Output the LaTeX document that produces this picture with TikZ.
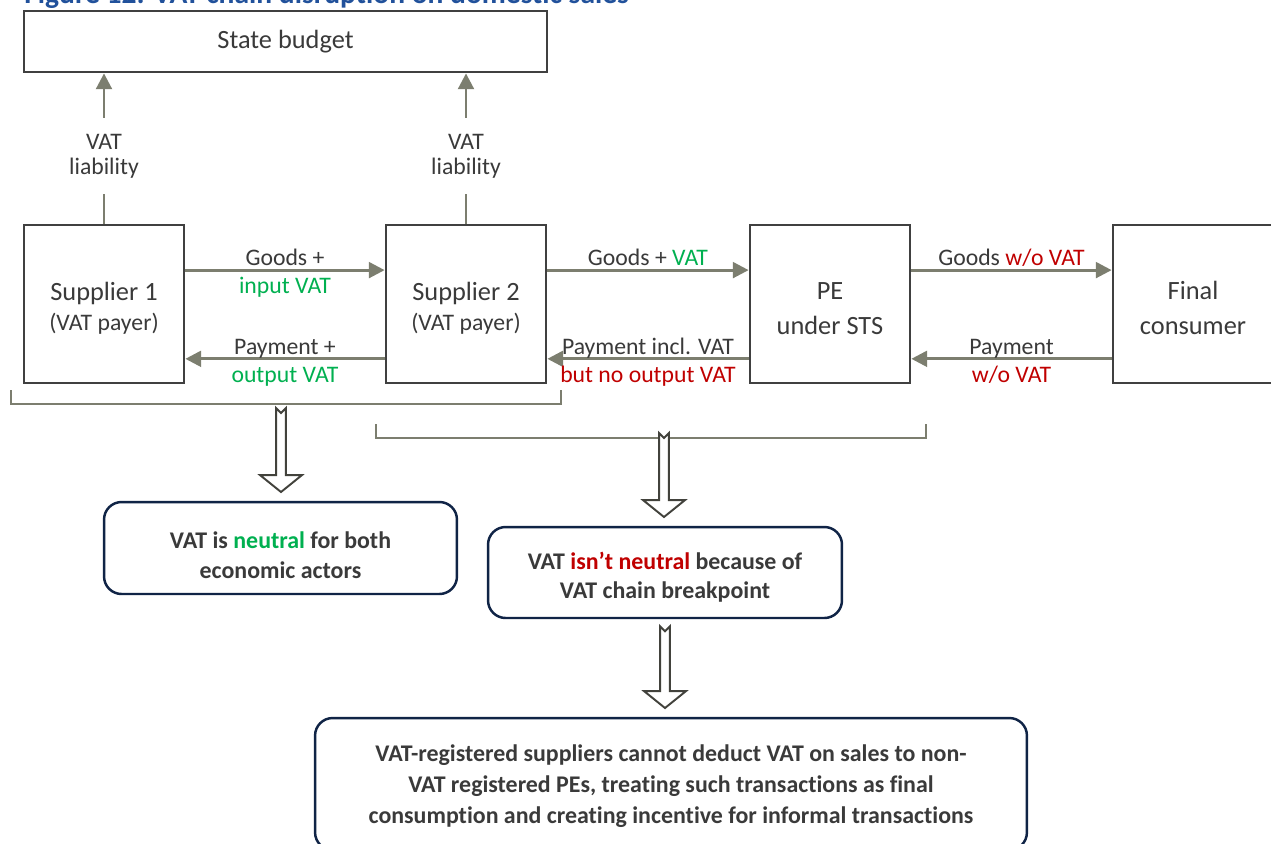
\documentclass[tikz,border=0pt]{standalone}
\usepackage{fontspec}
\setmainfont{Carlito}[Ligatures=NoCommon]
\usetikzlibrary{arrows.meta,calc}

\definecolor{flowgray}{RGB}{124,126,111}
\definecolor{boxgray}{RGB}{64,64,64}
\definecolor{hollowgray}{RGB}{66,66,60}
\definecolor{navy}{RGB}{16,36,70}
\definecolor{ink}{RGB}{58,58,58}
\definecolor{vatgreen}{RGB}{0,176,80}
\definecolor{vatred}{RGB}{192,0,0}
\definecolor{titleblue}{RGB}{33,81,155}

\begin{document}
\begin{tikzpicture}[x=0.02cm, y=-0.02cm]
      \tikzstyle{party}=[draw=boxgray, line width=1.6pt, minimum width=3.2cm,
        minimum height=3.16cm, inner sep=0pt, align=center, text=ink,
        text height=34.3pt, text depth=0pt, font=\fontsize{15}{20}\selectfont]
      \tikzstyle{outcome}=[draw=navy, line width=1.4pt, rounded corners=10pt,
        inner sep=0pt, align=center, text=ink, text depth=0pt,
        font=\bfseries\fontsize{13.6}{17}\selectfont]
      \tikzstyle{flow}=[draw=flowgray, line width=1.6pt,
        -{Triangle[length=9pt,width=9pt]}]
      \tikzstyle{lbl}=[font=\fontsize{13.5}{14}\selectfont, text=ink,
        text height=9.5pt, text depth=3pt, inner sep=1pt, yshift=-2.3pt]
      \tikzstyle{liab}=[font=\fontsize{13.5}{14}\selectfont, text=ink,
        fill=white, align=center, inner xsep=2pt, inner ysep=9pt]
      \tikzstyle{brace}=[draw=flowgray, line width=1.2pt]
      \tikzstyle{hollow}=[draw=hollowgray, line width=1.1pt, fill=white,
        to path={let \p1=(\tikztostart), \p2=(\tikztotarget) in
          (\x1-2.8pt,\y1) -- (\x1,\y1-2.8pt) -- (\x1+2.8pt,\y1)
          -- (\x1+2.8pt,\y2+14.6pt) -- (\x1+11.9pt,\y2+14.6pt)
          -- (\x1,\y2+5pt) -- (\x1-11.9pt,\y2+14.6pt)
          -- (\x1-2.8pt,\y2+14.6pt) -- cycle}]
      \def \up {19.3pt}
      \def \dn {-31.2pt}
      \path[use as bounding box, fill=white] (0,0) rectangle (1271,843);

      \node[anchor=base west, inner sep=0pt, text=titleblue,
        font=\bfseries\fontsize{16.8}{20}\selectfont] (title) at (24,3)
        {Figure 12: VAT chain disruption on domestic sales};

      % parties
      \node[party, minimum width=10.46cm, minimum height=1.22cm,
        text height=10.5pt, text depth=2.5pt] (sb) at (285.5,41.5) {State budget};
      \node[party, text height=29.9pt] (s1) at (104,304)
        {Supplier 1\\[-3pt]{\fontsize{13.5}{16}\selectfont (VAT payer)}};
      \node[party, text height=29.9pt] (s2) at (466,304)
        {Supplier 2\\[-3pt]{\fontsize{13.5}{16}\selectfont (VAT payer)}};
      \node[party] (pe) at (830,304) {PE\\under STS};
      \node[party] (fc) at (1193,304) {Final\\consumer};

      % flows
      \foreach \s in {s1,s2} {
        \draw[flow] (\s) -- node[liab, pos=0.45] {VAT\\liability} (\s |- sb.south);
      }
      \draw[flow] ([yshift=\up]s1.east) -- node[lbl, above] {Goods +}
        node[lbl, below, text=vatgreen] {input VAT} ([yshift=\up]s2.west);
      \draw[flow] ([yshift=\dn]s2.west) -- node[lbl, above] {Payment +}
        node[lbl, below, text=vatgreen] {output VAT} ([yshift=\dn]s1.east);
      \draw[flow] ([yshift=\up]s2.east) -- node[lbl, above]
        {Goods + \textcolor{vatgreen}{VAT}} ([yshift=\up]pe.west);
      \draw[flow] ([yshift=\dn]pe.west) -- node[lbl, above] {Payment incl. VAT}
        node[lbl, below, text=vatred] {but no output VAT} ([yshift=\dn]s2.east);
      \draw[flow] ([yshift=\up]pe.east) -- node[lbl, above]
        {Goods \textcolor{vatred}{w/o VAT}} ([yshift=\up]fc.west);
      \draw[flow] ([yshift=\dn]fc.west) -- node[lbl, above] {Payment}
        node[lbl, below, text=vatred] {w/o VAT} ([yshift=\dn]pe.east);

      % brackets
      \draw[brace] (11,390) -- (11,404) -- (561,404) -- (561,390);
      \draw[brace] (376,424) -- (376,438) -- (926,438) -- (926,424);
      \coordinate (br1) at (281,408);
      \coordinate (br2) at (664,433);

      % outcomes
      \node[outcome, minimum width=7.06cm, minimum height=1.84cm,
        text height=34.7pt] (nb) at (280.5,548)
        {VAT is \textcolor{vatgreen}{neutral} for both\\economic actors};
      \node[outcome, minimum width=7.08cm, minimum height=1.82cm,
        text height=30.1pt] (bb) at (665,572.5)
        {VAT \textcolor{vatred}{isn’t neutral} because of\\VAT chain breakpoint};
      \node[outcome, minimum width=14.24cm, minimum height=2.64cm,
        text depth=0pt, font=\bfseries\fontsize{13.6}{17.5}\selectfont]
        (cb) at (671,784)
        {VAT-registered suppliers cannot deduct VAT on sales to non-\\
        VAT registered PEs, treating such transactions as final\\
        consumption and creating incentive for informal transactions};

      \draw[hollow] (br1) to (nb.north);
      \draw[hollow] (br2) to (bb.north);
      \draw[hollow] ([yshift=-4pt]bb.south) to (cb.north);
\end{tikzpicture}
\end{document}
